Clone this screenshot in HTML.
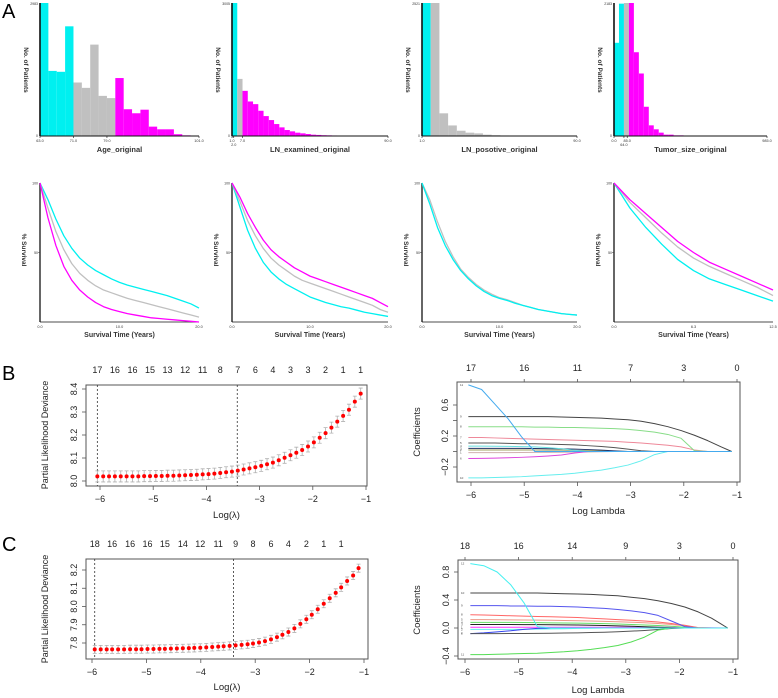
<!DOCTYPE html>
<html><head><meta charset="utf-8">
<style>
html,body{margin:0;padding:0;background:#fff;}
svg{display:block;font-family:"Liberation Sans",Arial,sans-serif;}
</style></head>
<body>
<svg id="fig" width="778" height="698" viewBox="0 0 778 698" xmlns="http://www.w3.org/2000/svg"></svg>
<script>
// ---------- Panel A histogram data ----------
const hist1Counts=[2983,1460,1440,2460,1200,1080,2050,900,850,1300,600,510,590,210,150,150,40,15,5];
const hist1Groups=['c','c','c','c','g','g','g','g','g','m','m','m','m','m','m','m','m','m','m'];
const hist2Counts=[3005,1290,1020,780,720,570,450,360,270,195,135,105,75,60,45,30,24,18,15,12,9,9,6,6,3,3,0,0,0,0];
const hist2Groups=['c','g','m','m','m','m','m','m','m','m','m','m','m','m','m','m','m','m','m','m','m','m','m','m','m','m','m','m','m','m'];
const hist3Counts=[2521,2521,430,200,100,63,50,25,15,10,5,5,3,0];
const hist3Groups=['c','g','g','g','g','g','g','g','g','g','g','g','g','g'];
const hist4Counts=[1530,2172,2183,2183,1375,1026,480,175,110,55,22,22,11,11];
const hist4Groups=['c','c','g','m','m','m','m','m','m','m','m','m','m','m'];
const histTitles=['Age_original','LN_examined_original','LN_posotive_original','Tumor_size_original'];
const histMaxLabels=['2983','3005','2521','2183'];
// ---------- Panel A KM data ----------
const km1Cyan=[100,88,74,62,53,46,41,37,34,31,28.5,26.5,25,23.5,22,20.5,19,17,15,13,10];
const km1Gray=[100,82,65,52,42,35,30,26,23,21,19,17,15.5,14,12.5,11,9.5,8,6.5,5,3.5];
const km1Mag=[100,75,55,40,30,23,18,14,11,9,7.5,6,5,4,3,2.5,2,1.5,1,0.5,0];
const km2Mag=[100,90,78,68,59,52,47,43,39,36,33,31,29,27,25,23,21,19,17,14,11];
const km2Gray=[100,87,73,62,53,46,41,37,33,30,28,26,24,22,20,18,16,14,12,9,7];
const km2Cyan=[100,83,66,53,43,36,31,27,24,21,18,16,14,12.5,11,10,8.5,7,6,5,4];
const km3Cyan=[100,88,72,58,47,38,32,27,23,20,17.5,16,14,12,10.5,9,8,7,6,5.5,5];
const km3Gray=[100,85,68,55,45,37,31,26,22,19,17,15.5,13.5,12,10.5,9,8,7,6,5.5,5];
const km4Mag=[100,88,78,68,58,50,43,38,33,28,23];
const km4Gray=[100,86,75,64,54,46,40,35,30,25,19];
const km4Cyan=[100,82,68,56,45,37,31,27,23,19,15];
// ---------- Panel B / C CV data ----------
const bLogLambda=[-6.05,-5.94,-5.83,-5.72,-5.61,-5.50,-5.39,-5.28,-5.17,-5.06,-4.95,-4.84,-4.73,-4.62,-4.51,-4.40,-4.29,-4.18,-4.07,-3.96,-3.85,-3.74,-3.63,-3.52,-3.41,-3.30,-3.19,-3.08,-2.97,-2.86,-2.75,-2.64,-2.53,-2.42,-2.31,-2.20,-2.09,-1.98,-1.87,-1.76,-1.65,-1.54,-1.43,-1.32,-1.21,-1.10];
const bDeviance=[8.020,8.020,8.020,8.020,8.020,8.020,8.020,8.020,8.021,8.021,8.022,8.022,8.023,8.023,8.024,8.025,8.026,8.027,8.029,8.030,8.032,8.035,8.038,8.041,8.045,8.050,8.055,8.060,8.066,8.073,8.080,8.090,8.101,8.112,8.123,8.135,8.150,8.168,8.188,8.208,8.232,8.258,8.283,8.310,8.345,8.380];
const bSE=[0.024];
const bTopLabels=['17','16','16','15','13','12','11','8','7','6','4','3','3','2','1','1'];
const bDashed=[-6.05,-3.42];
const cLogLambda=[-5.95,-5.84,-5.73,-5.63,-5.52,-5.41,-5.30,-5.19,-5.09,-4.98,-4.87,-4.76,-4.66,-4.55,-4.44,-4.33,-4.22,-4.12,-4.01,-3.90,-3.79,-3.68,-3.58,-3.47,-3.36,-3.25,-3.14,-3.04,-2.93,-2.82,-2.71,-2.60,-2.50,-2.39,-2.28,-2.17,-2.06,-1.96,-1.85,-1.74,-1.63,-1.52,-1.42,-1.31,-1.20,-1.10];
const cDeviance=[7.765,7.765,7.765,7.765,7.765,7.765,7.766,7.766,7.766,7.767,7.767,7.768,7.768,7.769,7.770,7.771,7.772,7.773,7.774,7.776,7.778,7.780,7.782,7.784,7.787,7.790,7.793,7.797,7.803,7.810,7.820,7.832,7.845,7.860,7.880,7.905,7.930,7.955,7.985,8.015,8.045,8.075,8.105,8.140,8.170,8.210];
const cSE=[0.022];
const cTopLabels=['18','16','16','16','15','14','12','11','9','8','6','4','2','1','1'];
const cDashed=[-5.95,-3.40];
// ---------- coefficient paths ----------
const bGrid=[-6.05,-5.8,-5.55,-5.3,-5.05,-4.8,-4.55,-4.3,-4.05,-3.8,-3.55,-3.3,-3.05,-2.8,-2.55,-2.3,-2.05,-1.8,-1.55,-1.3,-1.1];
const bPathBlack=[0.45,0.45,0.45,0.45,0.45,0.45,0.45,0.445,0.44,0.435,0.43,0.42,0.41,0.39,0.36,0.32,0.27,0.21,0.14,0.06,0];
const bPathGreen=[0.32,0.32,0.32,0.32,0.32,0.315,0.315,0.31,0.31,0.305,0.30,0.295,0.285,0.27,0.25,0.22,0.17,0.01,0,0,0];
const bPathPink=[0.18,0.18,0.175,0.17,0.165,0.16,0.155,0.15,0.145,0.14,0.135,0.13,0.12,0.11,0.095,0.08,0.06,0.02,0,0,0];
const bPathSky=[0.86,0.80,0.61,0.42,0.19,0,0,0,0,0,0,0,0,0,0,0,0,0,0,0,0];
const bPathCyanNeg=[-0.34,-0.34,-0.335,-0.33,-0.325,-0.315,-0.305,-0.295,-0.28,-0.26,-0.24,-0.21,-0.175,-0.12,-0.04,0,0,0,0,0,0];
const bPathGray=[0.11,0.11,0.11,0.105,0.10,0.10,0.095,0.09,0.085,0.075,0.065,0.05,0.03,0.01,0,0,0,0,0,0,0];
const bPathNavy=[0.04,0.04,0.04,0.04,0.04,0.038,0.036,0.034,0.03,0.025,0.018,0.008,0,0,0,0,0,0,0,0,0];
const bPathCyan=[0.07,0.07,0.068,0.066,0.063,0.06,0.05,0.035,0.015,0,0,0,0,0,0,0,0,0,0,0,0];
const bPathMagenta=[-0.09,-0.088,-0.085,-0.08,-0.075,-0.068,-0.058,-0.045,-0.02,0,0,0,0,0,0,0,0,0,0,0,0];
const bPathLight=[-0.015,-0.015,-0.015,-0.014,-0.013,-0.012,-0.011,-0.01,-0.008,-0.006,-0.003,0,0,0,0,0,0,0,0,0,0];
const bPathOlive=[0.02,0.02,0.02,0.02,0.02,0.019,0.018,0.017,0.015,0.012,0.008,0.004,0,0,0,0,0,0,0,0,0];
const cGrid=[-5.9,-5.65,-5.4,-5.15,-4.9,-4.65,-4.4,-4.15,-3.9,-3.65,-3.4,-3.15,-2.9,-2.65,-2.4,-2.15,-1.9,-1.65,-1.4,-1.25,-1.1];
const cPathCyan=[0.92,0.89,0.80,0.62,0.36,0.02,0,0,0,0,0,0,0,0,0,0,0,0,0,0,0];
const cPathBlack=[0.5,0.5,0.5,0.5,0.5,0.5,0.495,0.49,0.485,0.48,0.47,0.46,0.44,0.42,0.39,0.35,0.30,0.23,0.14,0.07,0];
const cPathBlue=[0.32,0.32,0.32,0.315,0.315,0.31,0.31,0.305,0.30,0.29,0.28,0.265,0.245,0.22,0.18,0.10,0.02,0,0,0,0];
const cPathRed=[0.19,0.185,0.18,0.175,0.17,0.165,0.16,0.155,0.15,0.14,0.13,0.12,0.11,0.10,0.085,0.065,0.04,0.005,0,0,0];
const cPathGreenNeg=[-0.38,-0.38,-0.375,-0.37,-0.365,-0.36,-0.35,-0.34,-0.325,-0.305,-0.28,-0.25,-0.20,-0.13,-0.03,0,0,0,0,0,0];
const cPathGreen=[0.08,0.08,0.08,0.08,0.078,0.076,0.074,0.072,0.07,0.066,0.062,0.057,0.05,0.043,0.035,0.025,0.01,0,0,0,0];
const cPathGray=[-0.08,-0.08,-0.08,-0.079,-0.078,-0.077,-0.075,-0.072,-0.069,-0.065,-0.06,-0.053,-0.045,-0.035,-0.022,-0.008,0,0,0,0,0];
const cPathBlueNeg=[-0.08,-0.07,-0.055,-0.04,-0.02,-0.005,0,0,0,0,0,0,0,0,0,0,0,0,0,0,0];
const cPathOrange=[0.12,0.12,0.118,0.116,0.114,0.112,0.11,0.107,0.104,0.1,0.095,0.09,0.083,0.075,0.065,0.05,0.03,0.005,0,0,0];
const cPathMagenta=[0.01,0.01,0.01,0.01,0.01,0.01,0.01,0.01,0.01,0.01,0.01,0.01,0.01,0.01,0.01,0.01,0.008,0.005,0.003,0.001,0];
const cPathLightCyan=[-0.02,-0.02,-0.02,-0.019,-0.018,-0.016,-0.013,-0.01,-0.006,-0.003,0,0,0,0,0,0,0,0,0,0,0];
const cPathDark=[0.05,0.05,0.05,0.05,0.049,0.048,0.047,0.045,0.043,0.04,0.036,0.031,0.025,0.018,0.01,0.003,0,0,0,0,0];

const NS='http://www.w3.org/2000/svg';
const svg=document.getElementById('fig');
function mk(tag,attrs,parent){const e=document.createElementNS(NS,tag);for(const k in attrs)e.setAttribute(k,attrs[k]);(parent||svg).appendChild(e);return e;}
function tx(str,x,y,size,attrs,parent){const a=Object.assign({x:x,y:y,'font-size':size,fill:'#000'},attrs||{});const t=mk('text',a,parent);t.textContent=str;return t;}
const COL={c:'#00f0f0',g:'#c0c0c0',m:'#ff00ff'};

// Panel letters
[['A',2,18],['B',2,380],['C',2,551]].forEach(l=>{const t=tx(l[0],l[1],l[2],20,{});

});

// ---------- Histograms ----------
const AX0=[40,232,422,614], AX1=[199,388,577,767];
const histSets=[hist1Counts,hist2Counts,hist3Counts,hist4Counts];
const histGroupSets=[hist1Groups,hist2Groups,hist3Groups,hist4Groups];
const histDomains=[[63,101],[1,90],[1,90],[0,985]];
const histBinW=[2,3,5,32];
const histTicks=[[[63,'63.0'],[71,'71.0'],[79,'79.0'],[101,'101.0']],[[1,'1.0'],[2,'2.0'],[7,'7.0'],[90,'90.0']],[[1,'1.0'],[90,'90.0']],[[0,'0.0'],[64,'64.0'],[85,'85.0'],[985,'985.0']]];
const HT=3,HB=136;
for(let p=0;p<4;p++){
  const g=mk('g',{});
  
  
  const d=histDomains[p], x0=AX0[p], x1=AX1[p];
  const sx=v=>x0+(v-d[0])/(d[1]-d[0])*(x1-x0);
  const vals=histSets[p], max=Math.max(...vals);
  const sy=v=>HB-v/max*(HB-HT);
  vals.forEach((v,i)=>{
    if(v<=0)return;
    const a=sx(d[0]+i*histBinW[p]), b=Math.min(sx(d[0]+(i+1)*histBinW[p]),x1);
    const r=mk('rect',{x:a,y:sy(v),width:Math.max(b-a,0.5),height:HB-sy(v),fill:COL[histGroupSets[p][i]]},g);
    
    
  });
  const ya=mk('line',{x1:x0,y1:HT,x2:x0,y2:HB,stroke:'#111','stroke-width':1.6},g);
  
  
  const xa=mk('line',{x1:x0,y1:HB,x2:x1,y2:HB,stroke:'#111','stroke-width':1},g);
  
  
  tx(histMaxLabels[p],x0-2,HT+2,3.5,{'text-anchor':'end',fill:'#333'},g);
  tx('0',x0-2,HB+1,3.5,{'text-anchor':'end',fill:'#333'},g);
  histTicks[p].forEach((t,i)=>{const xx=sx(t[0]);mk('line',{x1:xx,y1:HB,x2:xx,y2:HB+2,stroke:'#111','stroke-width':0.6},g);
    const off=(p===1&&i===1)||(p===3&&i===1)?4:0;
    tx(t[1],xx,HB+6+off,3.8,{'text-anchor':'middle',fill:'#333'},g);});
  const tt=tx(histTitles[p],(x0+x1)/2,152,7.5,{'text-anchor':'middle','font-weight':'bold',fill:'#333'},g);
  
  
  const yt=tx('No. of Patients',0,0,6.5,{'text-anchor':'middle','font-weight':'bold',fill:'#333',transform:`translate(${x0-16},70) rotate(90)`},g);
  
  
}

// ---------- KM curves ----------
const KT=183,KB=322;
const kmSets=[[km1Cyan,km1Gray,km1Mag],[km2Cyan,km2Gray,km2Mag],[km3Cyan,km3Gray],[km4Cyan,km4Gray,km4Mag]];
const kmColors=[['c','g','m'],['c','g','m'],['g','c'],['c','g','m']];
const kmTmax=[20,20,20,12.5];
const kmTickLabels=[['0.0','10.0','20.0'],['0.0','10.0','20.0'],['0.0','10.0','20.0'],['0.0','6.3','12.5']];
for(let p=0;p<4;p++){
  const g=mk('g',{});
  
  
  const x0=AX0[p], x1=(p===3?773:AX1[p]);
  const sy=v=>KB-v/100*(KB-KT);
  const ya=mk('line',{x1:x0,y1:KT,x2:x0,y2:KB,stroke:'#666','stroke-width':2},g);
  
  
  mk('line',{x1:x0,y1:KB,x2:x1,y2:KB,stroke:'#111','stroke-width':0.8},g);
  kmSets[p].forEach((arr,si)=>{
    const n=arr.length;
    const pts=arr.map((v,i)=>[x0+(i/(n-1))*(x1-x0),sy(v)]);
    const pl=mk('polyline',{points:pts.map(q=>q.join(',')).join(' '),fill:'none',stroke:COL[kmColors[p][si]],'stroke-width':1.3,'stroke-linejoin':'round'},g);
    
    
  });
  tx('100',x0-2,KT+1.5,3.5,{'text-anchor':'end',fill:'#333'},g);
  tx('50',x0-2,sy(50)+1.5,3.5,{'text-anchor':'end',fill:'#333'},g);
  mk('line',{x1:x0-2,y1:sy(50),x2:x0,y2:sy(50),stroke:'#333','stroke-width':0.5},g);
  kmTickLabels[p].forEach((l,i)=>{const xx=x0+i/2*(x1-x0);tx(l,xx,KB+6,3.8,{'text-anchor':'middle',fill:'#333'},g);});
  const xt=tx('Survival Time (Years)',(x0+x1)/2,337,7,{'text-anchor':'middle','font-weight':'bold',fill:'#333'},g);
  
  
  const yt=tx('% Survival',0,0,6.5,{'text-anchor':'middle','font-weight':'bold',fill:'#333',transform:`translate(${x0-18},250) rotate(90)`},g);
  
  
}

// ---------- CV plots ----------
function cvPlot(name,F,xs,ys,logs,dev,se,topLabels,dashed,yTicks,yLab){
  const g=mk('g',{});
  
  
  const fr=mk('rect',{x:F[0],y:F[1],width:F[2]-F[0],height:F[3]-F[1],fill:'none',stroke:'#555','stroke-width':1},g);
  
  
  [-6,-5,-4,-3,-2,-1].forEach(v=>{const xx=xs(v);mk('line',{x1:xx,y1:F[3],x2:xx,y2:F[3]+4,stroke:'#555','stroke-width':0.8},g);
    const t=tx('\u2212'+Math.abs(v),xx,F[3]+16,9,{'text-anchor':'middle',fill:'#222'},g);
    
    });
  yTicks.forEach(v=>{const yy=ys(v);mk('line',{x1:F[0]-4,y1:yy,x2:F[0],y2:yy,stroke:'#555','stroke-width':0.8},g);
    const t=tx(v.toFixed(1),0,0,9,{'text-anchor':'middle',fill:'#222',transform:`translate(${F[0]-9},${yy}) rotate(-90)`},g);
    
    });
  dashed.forEach(v=>{const l=mk('line',{x1:xs(v),y1:F[1],x2:xs(v),y2:F[3],stroke:'#333','stroke-width':0.8,'stroke-dasharray':'2,2'},g);
    
    });
  const s=se[0];
  logs.forEach((lx,i)=>{const xx=xs(lx),yu=ys(dev[i]+s),yd=ys(dev[i]-s);
    const e=mk('path',{d:`M${xx},${yu}V${yd}M${xx-2},${yu}H${xx+2}M${xx-2},${yd}H${xx+2}`,stroke:'#b0b0b0','stroke-width':0.8,fill:'none'},g);
    
    });
  logs.forEach((lx,i)=>{const c=mk('circle',{cx:xs(lx),cy:ys(dev[i]),r:2,fill:'#ff0000'},g);
    
    });
  topLabels.forEach((l,k)=>{const t=tx(l,xs(logs[k*3]),F[1]-12,9,{'text-anchor':'middle',fill:'#222'},g);
    
    });
  const xt=tx('Log(\u03bb)',(F[0]+F[2])/2,yLab[0],9.5,{'text-anchor':'middle',fill:'#222'},g);
  
  
  const yt=tx('Partial Likelihood Deviance',0,0,9,{'text-anchor':'middle',fill:'#222',transform:`translate(48,${yLab[1]}) rotate(-90)`},g);
  
  
}
cvPlot('cv-plot-b',[86,385,367,486],v=>100+(v+6)*53.2,v=>481-(v-8.0)*230,bLogLambda,bDeviance,bSE,bTopLabels,bDashed,[8.0,8.1,8.2,8.3,8.4],[518,435]);
cvPlot('cv-plot-c',[86,559,368,659],v=>92+(v+6)*54.4,v=>643-(v-7.8)*182.5,cLogLambda,cDeviance,cSE,cTopLabels,cDashed,[7.8,7.9,8.0,8.1,8.2],[690,609]);

// ---------- coefficient path plots ----------
function coefPlot(name,F,xs,ys,grid,paths,colors,topTicks,topLabels,yTicks,yLabeled,yLab){
  const g=mk('g',{});
  
  
  const fr=mk('rect',{x:F[0],y:F[1],width:F[2]-F[0],height:F[3]-F[1],fill:'none',stroke:'#555','stroke-width':1},g);
  
  
  [-6,-5,-4,-3,-2,-1].forEach(v=>{const xx=xs(v);mk('line',{x1:xx,y1:F[3],x2:xx,y2:F[3]+4,stroke:'#555','stroke-width':0.8},g);
    const t=tx('\u2212'+Math.abs(v),xx,F[3]+16,9,{'text-anchor':'middle',fill:'#222'},g);
    
    });
  topTicks.forEach((v,i)=>{const xx=xs(v);mk('line',{x1:xx,y1:F[1],x2:xx,y2:F[1]-3,stroke:'#555','stroke-width':0.8},g);
    const t=tx(topLabels[i],xx,F[1]-11,9,{'text-anchor':'middle',fill:'#222'},g);
    
    });
  yTicks.forEach(v=>{const yy=ys(v);mk('line',{x1:F[0]-4,y1:yy,x2:F[0],y2:yy,stroke:'#555','stroke-width':0.8},g);
    if(yLabeled.indexOf(v)>=0){const t=tx(v.toFixed(1).replace('-','\u2212'),0,0,9,{'text-anchor':'middle',fill:'#222',transform:`translate(${F[0]-9},${yy}) rotate(-90)`},g);
    
    }});
  paths.forEach((arr,k)=>{const pts=arr.map((v,i)=>xs(grid[i])+','+ys(v)).join(' ');
    const pl=mk('polyline',{points:pts,fill:'none',stroke:colors[k],'stroke-width':1,'stroke-linejoin':'round'},g);
    
    
    tx(String(k+1),F[0]+3,ys(arr[0])+1,3,{fill:'#444'},g);});
  const xt=tx('Log Lambda',(F[0]+F[2])/2,yLab[0],9.5,{'text-anchor':'middle',fill:'#222'},g);
  
  
  const yt=tx('Coefficients',0,0,9.5,{'text-anchor':'middle',fill:'#222',transform:`translate(420,${yLab[1]}) rotate(-90)`},g);
  
  
}
coefPlot('coef-plot-b',[457,382,740,482],v=>471+(v+6)*53.2,v=>451.5-v*77.5,bGrid,
  [bPathLight,bPathOlive,bPathNavy,bPathCyan,bPathGray,bPathMagenta,bPathPink,bPathGreen,bPathBlack,bPathCyanNeg,bPathSky],
  ['#d0b0b0','#a0a060','#223366','#66e0e0','#555','#dd44dd','#ee8899','#88dd88','#444','#66eeee','#44aaee'],
  [-6,-5,-4,-3,-2,-1],['17','16','11','7','3','0'],[-0.2,0,0.2,0.4,0.6],[-0.2,0.2,0.6],[514,432]);
coefPlot('coef-plot-c',[458,560,738,659],v=>465+(v+6)*53.6,v=>628-v*70,cGrid,
  [cPathMagenta,cPathLightCyan,cPathDark,cPathGreen,cPathOrange,cPathBlueNeg,cPathGray,cPathRed,cPathBlue,cPathBlack,cPathGreenNeg,cPathCyan],
  ['#ff33ff','#66eeee','#222','#66dd66','#ee9988','#3344ee','#555','#ff6666','#5555ee','#444','#55dd55','#44f0f0'],
  [-6,-5,-4,-3,-2,-1],['18','16','14','9','3','0'],[-0.4,0,0.4,0.8],[-0.4,0,0.4,0.8],[693,610]);
</script>
</body></html>
